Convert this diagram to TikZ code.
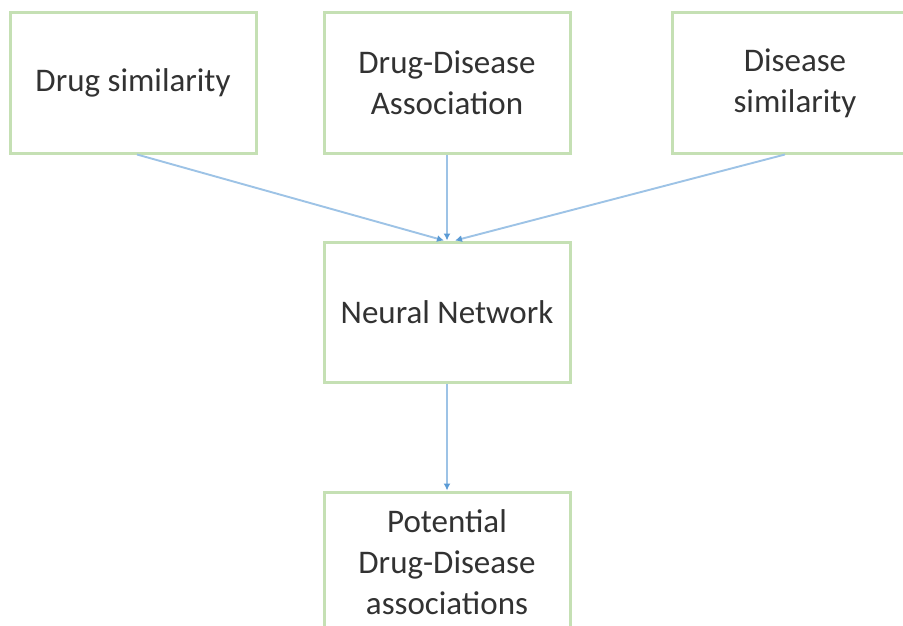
\documentclass[tikz,border=0pt]{standalone}
\usepackage{fontspec}
\setmainfont{Carlito}
\usetikzlibrary{arrows.meta,calc}
\definecolor{boxgreen}{RGB}{197,224,180}
\definecolor{arrowblue}{RGB}{157,195,230}
\definecolor{tipblue}{RGB}{91,155,213}
\definecolor{txt}{RGB}{50,50,50}
\tikzset{
  box/.style={draw=boxgreen, line width=3pt, fill=white, minimum width=246pt, minimum height=140pt,
    inner sep=0pt, align=center, text=txt, font=\fontsize{33}{41}\selectfont},
  conn/.style={draw=arrowblue, line width=1.9pt, -{Latex[length=7pt,width=7pt,fill=tipblue,color=tipblue]}}
}
\begin{document}
\begin{tikzpicture}[x=1pt,y=-1pt]
\useasboundingbox[fill=white] (0,0) rectangle (903,626);
\begin{scope}
\clip (0,0) rectangle (903,626);
\node[box] (ds) at (133,83) {Drug similarity};
\node[box] (dda) at (447,83) {Drug-Disease\\Association};
\node[box] (dis) at (795,83) {Disease\\similarity};
\node[box] (nn) at (447,312) {Neural Network};
\node[box] (pot) at (447,562) {Potential\\Drug-Disease\\associations};
\draw[conn] ($(ds.south)+(4,0)$) -- ($(nn.north)+(-3,0)$);
\draw[conn] (dda.south) -- (nn.north);
\draw[conn] ($(dis.south)+(-10,0)$) -- ($(nn.north)+(8,0)$);
\draw[conn] (nn.south) -- (pot.north);
\end{scope}
\end{tikzpicture}
\end{document}
